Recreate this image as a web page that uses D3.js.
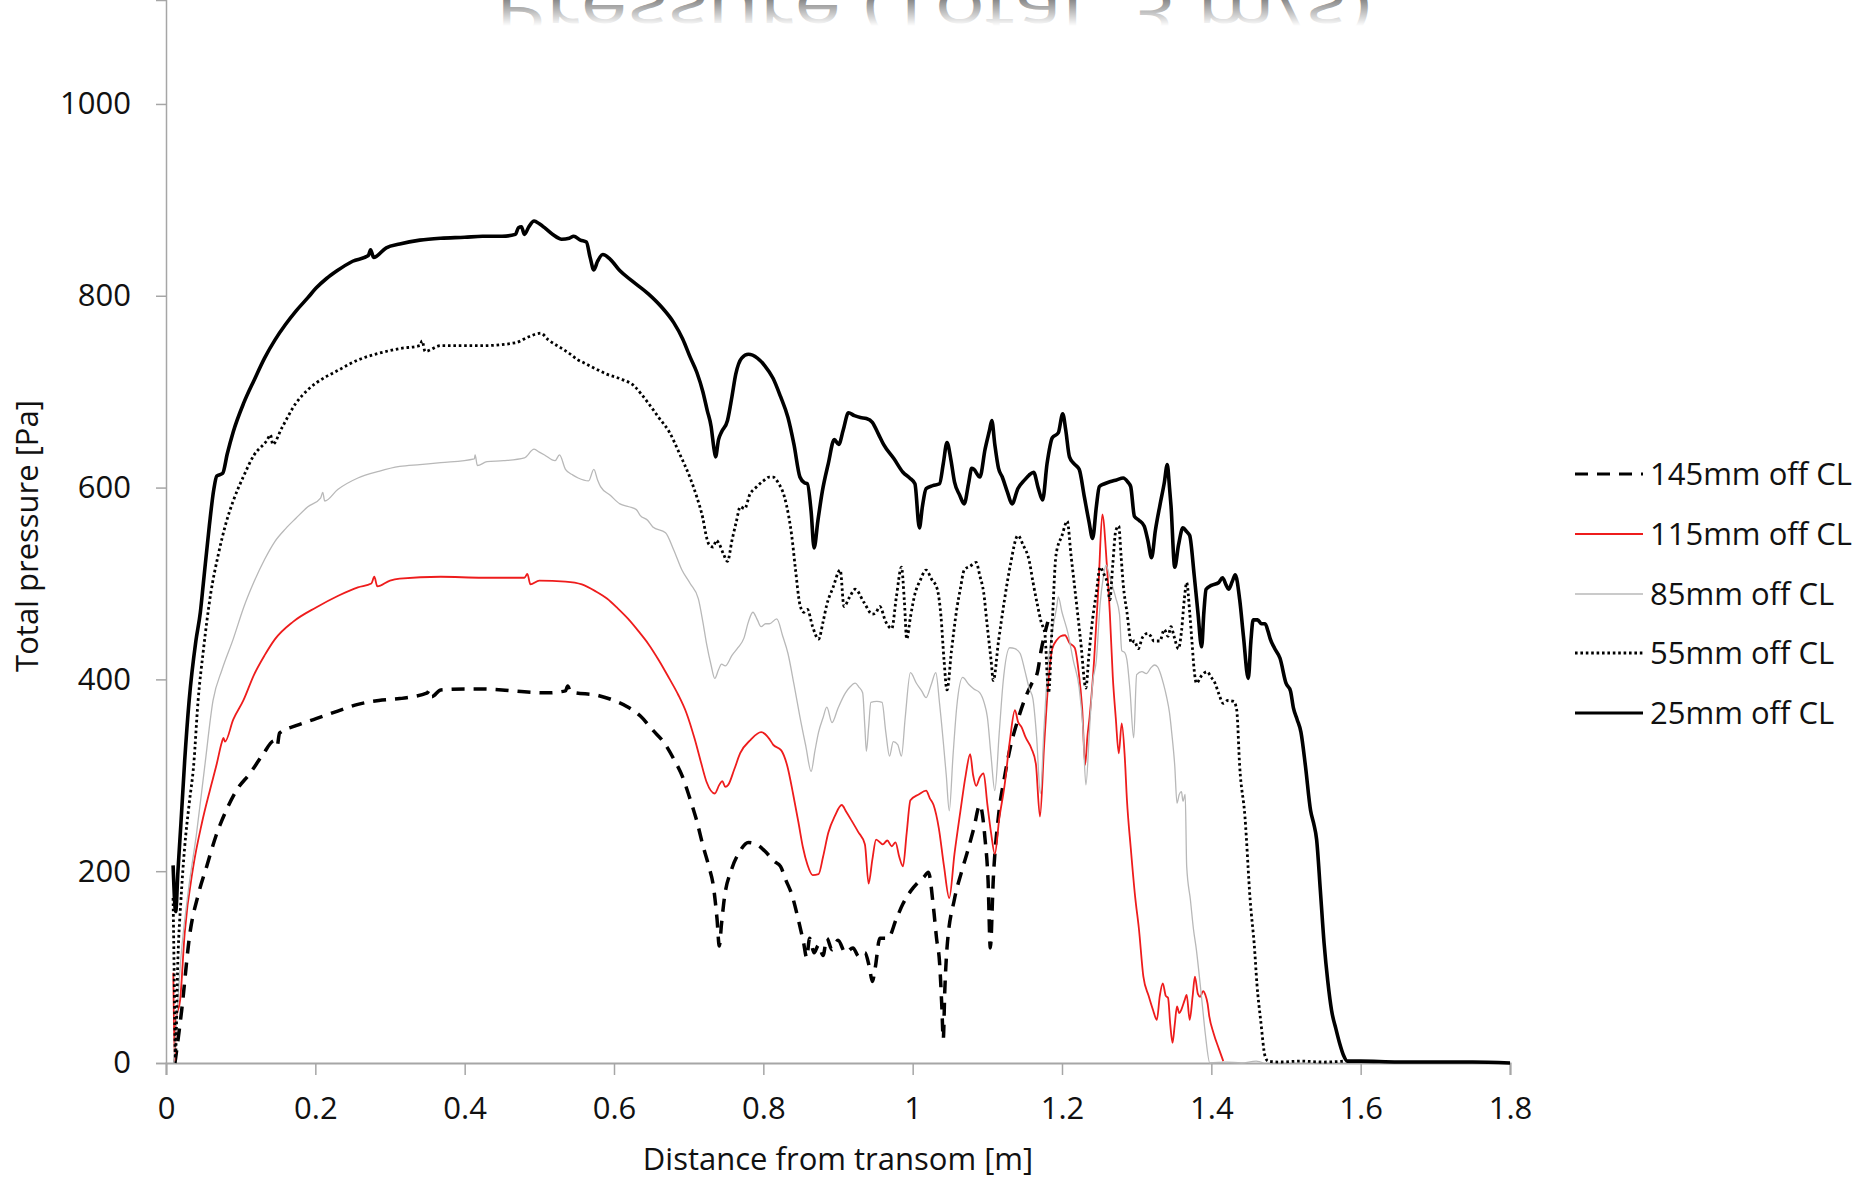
<!DOCTYPE html>
<html>
<head>
<meta charset="utf-8">
<script src="https://cdn.jsdelivr.net/npm/d3@7"></script>
<style>
  body { margin: 0; background: #fff; }
  svg { display: block; font-family: "Open Sans", sans-serif; }
</style>
</head>
<body>
<svg id="chart" width="1869" height="1181"></svg>
<script>
// series data: [distance m, pressure Pa]
var s145 = [[0.012,0],[0.021,55],[0.032,135],[0.043,175],[0.0545,205],[0.067,237],[0.081,264],[0.095,285],[0.1125,302],[0.13,322],[0.145,336],[0.149,331],[0.152,344],[0.175,352],[0.201,359],[0.23,367],[0.257,374],[0.285,378],[0.313,380],[0.35,386],[0.353,389],[0.356,382],[0.368,389],[0.4,390],[0.424,390],[0.45,389],[0.48,387],[0.51,386],[0.535,388],[0.538,393],[0.542,387],[0.58,383],[0.6,378],[0.619,371],[0.635,362],[0.652,347],[0.668,333],[0.68,317],[0.692,298],[0.702,275],[0.711,252],[0.719,227],[0.727,205],[0.733,185],[0.738,150],[0.741,122],[0.744,145],[0.747,167],[0.758,203],[0.768,220],[0.78,230],[0.791,228],[0.802,221],[0.815,210],[0.823,205],[0.83,191],[0.838,176],[0.847,149],[0.854,125],[0.858,110],[0.862,130],[0.868,115],[0.874,123],[0.88,112],[0.885,130],[0.892,118],[0.9,128],[0.91,115],[0.92,120],[0.928,111],[0.936,115],[0.942,100],[0.946,85],[0.95,100],[0.956,130],[0.967,130],[0.978,150],[0.987,166],[0.998,180],[1.008,189],[1.015,194],[1.021,199],[1.028,161],[1.032,130],[1.036,105],[1.039,60],[1.041,25],[1.043,75],[1.046,120],[1.056,171],[1.065,198],[1.074,222],[1.082,245],[1.09,269],[1.097,233],[1.101,190],[1.104,120],[1.108,192],[1.115,258],[1.123,298],[1.131,330],[1.141,358],[1.151,381],[1.159,395],[1.167,407],[1.172,430],[1.177,448],[1.181,460]];

var s115 = [[0.0098,94],[0.0116,2],[0.0134,45],[0.019,66],[0.025,135],[0.0366,205],[0.048,250],[0.059,285],[0.068,312],[0.075,335],[0.077,339],[0.079,335],[0.09,358],[0.1036,378],[0.118,405],[0.132,425],[0.146,442],[0.17,460],[0.201,475],[0.23,487],[0.257,496],[0.275,500],[0.279,507],[0.283,497],[0.3,503],[0.313,505],[0.368,507],[0.424,506],[0.48,506],[0.484,510],[0.488,499],[0.5,503],[0.535,502],[0.557,499],[0.575,492],[0.591,484],[0.605,474],[0.619,463],[0.633,450],[0.646,437],[0.66,420],[0.674,401],[0.686,384],[0.697,365],[0.708,338],[0.716,315],[0.724,293],[0.735,281],[0.741,290],[0.745,294],[0.749,288],[0.753,290],[0.761,306],[0.769,323],[0.783,337],[0.797,345],[0.808,338],[0.813,332],[0.824,326],[0.832,310],[0.84,280],[0.847,251],[0.853,225],[0.859,207],[0.866,196],[0.874,197],[0.88,215],[0.887,240],[0.896,258],[0.905,269],[0.911,262],[0.918,253],[0.927,241],[0.936,228],[0.941,187],[0.946,212],[0.951,233],[0.96,228],[0.966,232],[0.972,226],[0.977,230],[0.982,215],[0.987,205],[0.992,240],[0.997,274],[1.008,280],[1.018,284],[1.023,276],[1.028,269],[1.035,245],[1.042,205],[1.049,172],[1.056,218],[1.064,263],[1.071,300],[1.077,322],[1.081,300],[1.085,289],[1.09,298],[1.095,302],[1.1,270],[1.105,240],[1.11,218],[1.116,255],[1.123,289],[1.13,335],[1.137,368],[1.141,356],[1.146,350],[1.151,340],[1.159,328],[1.165,312],[1.1705,257],[1.176,330],[1.182,400],[1.187,432],[1.193,441],[1.198,445],[1.204,446],[1.21,438],[1.217,433],[1.222,410],[1.227,370],[1.231,311],[1.234,340],[1.237,361],[1.243,420],[1.249,500],[1.254,572],[1.26,520],[1.264,470],[1.268,403],[1.272,360],[1.276,323],[1.28,354],[1.284,320],[1.287,274],[1.292,225],[1.298,173],[1.303,140],[1.309,90],[1.316,70],[1.322,55],[1.327,45],[1.331,70],[1.335,83],[1.339,70],[1.342,68],[1.345,40],[1.348,21],[1.351,40],[1.354,59],[1.357,52],[1.36,56],[1.364,65],[1.367,71],[1.371,45],[1.375,70],[1.378,90],[1.382,72],[1.385,69],[1.389,75],[1.392,71],[1.395,62],[1.397,50],[1.403,31],[1.41,15],[1.416,2]];

var s85 = [[0.0105,0],[0.013,30],[0.02,110],[0.03,180],[0.041,240],[0.052,310],[0.063,378],[0.075,410],[0.09,442],[0.104,475],[0.118,502],[0.132,525],[0.146,544],[0.16,557],[0.174,568],[0.19,580],[0.207,589],[0.21,595],[0.2125,586],[0.23,598],[0.257,610],[0.285,617],[0.313,622],[0.34,624],[0.368,626],[0.413,630],[0.414,634],[0.417,623],[0.43,627],[0.452,628],[0.48,631],[0.493,640],[0.5,637],[0.507,634],[0.521,628],[0.527,634],[0.535,619],[0.545,613],[0.552,610],[0.566,607],[0.573,619],[0.578,608],[0.582,601],[0.595,592],[0.608,583],[0.62,580],[0.63,577],[0.635,571],[0.645,566],[0.652,559],[0.669,553],[0.68,535],[0.691,514],[0.702,500],[0.713,484],[0.719,460],[0.724,437],[0.73,415],[0.735,401],[0.74,410],[0.744,416],[0.749,414],[0.758,425],[0.766,433],[0.774,443],[0.78,460],[0.786,470],[0.792,462],[0.797,455],[0.803,458],[0.808,458],[0.818,463],[0.826,445],[0.833,427],[0.841,395],[0.849,361],[0.857,330],[0.864,304],[0.869,325],[0.874,345],[0.88,360],[0.885,371],[0.892,355],[0.9,370],[0.91,386],[0.916,392],[0.923,396],[0.928,392],[0.933,386],[0.936,350],[0.938,325],[0.941,350],[0.944,376],[0.952,377],[0.959,376],[0.964,345],[0.969,320],[0.974,335],[0.98,332],[0.985,320],[0.99,360],[0.997,407],[1.005,396],[1.012,388],[1.018,381],[1.025,395],[1.031,407],[1.036,375],[1.041,335],[1.045,300],[1.049,263],[1.054,320],[1.059,371],[1.067,402],[1.075,395],[1.082,390],[1.09,386],[1.096,375],[1.1,361],[1.105,320],[1.11,284],[1.116,345],[1.121,396],[1.13,433],[1.137,432],[1.144,427],[1.15,410],[1.156,391],[1.161,380],[1.166,340],[1.171,281],[1.176,350],[1.181,413],[1.187,450],[1.193,476],[1.195,486],[1.2,470],[1.208,448],[1.215,420],[1.223,391],[1.228,350],[1.232,290],[1.237,350],[1.241,396],[1.246,420],[1.251,478],[1.255,505],[1.259,519],[1.263,510],[1.267,499],[1.272,485],[1.277,468],[1.28,430],[1.284,428],[1.287,420],[1.291,389],[1.296,339],[1.3,405],[1.307,408],[1.313,406],[1.319,412],[1.324,415],[1.328,413],[1.331,408],[1.336,395],[1.34,382],[1.344,365],[1.347,344],[1.351,310],[1.354,271],[1.357,280],[1.36,283],[1.362,273],[1.365,280],[1.367,205],[1.372,170],[1.376,140],[1.38,118],[1.384,90],[1.388,60],[1.392,30],[1.398,0],[1.42,1],[1.44,0],[1.46,2],[1.47,0]];

var s55 = [[0.0095,172],[0.011,90],[0.0125,5],[0.016,110],[0.02,170],[0.025,225],[0.031,270],[0.037,310],[0.043,378],[0.05,430],[0.06,490],[0.07,530],[0.08,562],[0.09,586],[0.104,612],[0.118,634],[0.135,649],[0.14,655],[0.143,645],[0.155,662],[0.174,688],[0.19,702],[0.201,709],[0.23,722],[0.257,733],[0.285,740],[0.313,745],[0.34,748],[0.343,753],[0.347,742],[0.368,748],[0.424,748],[0.468,751],[0.485,757],[0.502,761],[0.512,754],[0.524,748],[0.54,740],[0.552,733],[0.56,730],[0.575,724],[0.591,718],[0.61,713],[0.627,706],[0.636,698],[0.646,688],[0.66,673],[0.674,658],[0.688,635],[0.702,610],[0.711,590],[0.719,568],[0.724,548],[0.727,541],[0.733,538],[0.737,545],[0.741,541],[0.747,530],[0.752,523],[0.758,545],[0.764,565],[0.769,580],[0.775,578],[0.782,593],[0.79,600],[0.8,607],[0.808,611],[0.813,611],[0.82,605],[0.828,591],[0.834,570],[0.838,550],[0.843,515],[0.849,478],[0.854,470],[0.859,473],[0.866,455],[0.874,442],[0.88,460],[0.885,478],[0.893,495],[0.903,514],[0.908,476],[0.915,485],[0.923,494],[0.935,480],[0.946,468],[0.951,470],[0.956,476],[0.964,460],[0.972,453],[0.978,485],[0.985,517],[0.989,480],[0.992,442],[0.997,465],[1.003,489],[1.01,503],[1.018,514],[1.025,505],[1.033,494],[1.038,465],[1.042,420],[1.046,389],[1.052,430],[1.059,473],[1.064,495],[1.069,514],[1.077,518],[1.085,522],[1.09,508],[1.095,491],[1.1,455],[1.105,420],[1.108,399],[1.115,440],[1.123,483],[1.131,520],[1.141,550],[1.148,540],[1.156,524],[1.161,502],[1.167,478],[1.172,460],[1.177,448],[1.182,386],[1.187,460],[1.192,530],[1.2,550],[1.207,565],[1.212,530],[1.218,489],[1.225,440],[1.232,391],[1.236,425],[1.241,463],[1.246,490],[1.251,517],[1.256,510],[1.261,499],[1.264,483],[1.268,520],[1.272,555],[1.276,560],[1.279,530],[1.282,499],[1.287,470],[1.293,438],[1.297,440],[1.302,432],[1.308,444],[1.315,448],[1.319,445],[1.323,440],[1.331,440],[1.337,452],[1.342,445],[1.346,455],[1.35,445],[1.356,432],[1.36,450],[1.364,485],[1.367,501],[1.371,470],[1.374,440],[1.377,410],[1.38,396],[1.387,404],[1.394,408],[1.4,402],[1.405,396],[1.41,385],[1.416,375],[1.422,378],[1.43,377],[1.434,368],[1.438,309],[1.445,257],[1.452,170],[1.458,118],[1.461,83],[1.466,45],[1.472,7],[1.476,2],[1.49,1],[1.52,2],[1.55,1],[1.58,2]];

var s25 = [[0.0095,206],[0.013,158],[0.016,200],[0.02,250],[0.025,315],[0.031,378],[0.04,440],[0.046,470],[0.05,500],[0.058,560],[0.064,598],[0.068,612],[0.076,615],[0.082,635],[0.09,658],[0.104,688],[0.118,712],[0.132,735],[0.146,754],[0.16,770],[0.174,784],[0.19,798],[0.201,808],[0.215,818],[0.229,826],[0.25,836],[0.271,842],[0.274,848],[0.278,840],[0.295,850],[0.313,854],[0.34,858],[0.368,860],[0.4,861],[0.424,862],[0.45,862],[0.468,864],[0.472,871],[0.476,872],[0.48,864],[0.486,872],[0.493,878],[0.5,875],[0.507,871],[0.518,864],[0.53,859],[0.54,860],[0.546,862],[0.555,858],[0.563,856],[0.568,840],[0.573,827],[0.578,836],[0.585,843],[0.595,838],[0.608,826],[0.625,815],[0.646,802],[0.664,788],[0.68,772],[0.692,755],[0.702,736],[0.711,720],[0.719,700],[0.725,680],[0.73,664],[0.734,640],[0.736,632],[0.74,650],[0.744,658],[0.752,670],[0.758,695],[0.763,718],[0.771,735],[0.78,739],[0.792,735],[0.802,727],[0.813,714],[0.823,695],[0.833,673],[0.841,645],[0.849,611],[0.855,605],[0.859,604],[0.864,575],[0.868,537],[0.873,565],[0.879,596],[0.887,625],[0.895,650],[0.901,645],[0.907,660],[0.914,678],[0.922,675],[0.93,673],[0.938,672],[0.946,668],[0.954,656],[0.961,645],[0.975,630],[0.987,616],[0.996,610],[1.003,604],[1.009,558],[1.013,580],[1.018,599],[1.027,602],[1.036,604],[1.041,625],[1.046,647],[1.051,630],[1.056,606],[1.063,592],[1.069,583],[1.075,605],[1.079,620],[1.082,619],[1.09,611],[1.097,640],[1.103,660],[1.106,670],[1.11,645],[1.115,620],[1.12,611],[1.127,595],[1.133,583],[1.141,599],[1.15,608],[1.156,613],[1.162,616],[1.168,600],[1.174,587],[1.18,625],[1.187,652],[1.195,657],[1.201,677],[1.205,660],[1.21,632],[1.216,625],[1.223,619],[1.23,590],[1.236,565],[1.241,547],[1.246,580],[1.25,601],[1.257,604],[1.264,606],[1.273,608],[1.282,610],[1.288,606],[1.292,601],[1.297,570],[1.303,566],[1.31,560],[1.315,545],[1.32,527],[1.325,555],[1.331,581],[1.337,605],[1.341,624],[1.344,600],[1.346,581],[1.351,517],[1.356,540],[1.362,558],[1.367,554],[1.371,550],[1.377,509],[1.382,470],[1.387,434],[1.39,470],[1.393,494],[1.4,498],[1.41,501],[1.415,506],[1.42,498],[1.423,494],[1.428,502],[1.432,509],[1.438,483],[1.443,445],[1.4495,401],[1.453,440],[1.456,462],[1.462,462],[1.467,458],[1.472,458],[1.476,450],[1.479,442],[1.485,432],[1.492,422],[1.5,396],[1.506,388],[1.51,370],[1.515,358],[1.52,345],[1.526,310],[1.533,263],[1.537,250],[1.541,233],[1.546,180],[1.551,125],[1.556,85],[1.561,55],[1.567,35],[1.572,20],[1.577,8],[1.582,2],[1.6,2],[1.65,1],[1.7,1],[1.75,1],[1.8,0]];

var seriesNames = ["145mm off CL", "115mm off CL", "85mm off CL", "55mm off CL", "25mm off CL"];
var xTicks = [0, 0.2, 0.4, 0.6, 0.8, 1, 1.2, 1.4, 1.6, 1.8];
var yTicks = [0, 200, 400, 600, 800, 1000];

var styles = [
  { color: "#000", width: 3.5, dash: "13,9" },
  { color: "#ee1c1c", width: 1.8, dash: null },
  { color: "#b8b8b8", width: 1.3, dash: null },
  { color: "#000", width: 2.8, dash: "2.6,2.8" },
  { color: "#000", width: 3.6, dash: null }
];
var allSeries = [s145, s115, s85, s55, s25];

var svg = d3.select("#chart");

var x = d3.scaleLinear().domain([0, 1.8]).range([166, 1510]);
var y = d3.scaleLinear().domain([0, 1108.4]).range([1063, 0]);

// faded reflection of the cut-off title at the very top
svg.append("text")
  .attr("transform", "translate(933,-11) scale(1,-1)")
  .attr("text-anchor", "middle")
  .attr("font-size", 64)
  .attr("textLength", 876)
  .attr("lengthAdjust", "spacingAndGlyphs")
  .attr("fill", "#8a8a8a")
  .text("Pressure (Total, 3 m/s)");

var defs = svg.append("defs");
var fade = defs.append("linearGradient").attr("id", "fade")
  .attr("x1", 0).attr("y1", 0).attr("x2", 0).attr("y2", 1);
fade.append("stop").attr("offset", "0%").attr("stop-color", "#fff").attr("stop-opacity", 0);
fade.append("stop").attr("offset", "100%").attr("stop-color", "#fff").attr("stop-opacity", 1);
svg.append("rect").attr("x", 470).attr("y", 0).attr("width", 930).attr("height", 26).attr("fill", "url(#fade)");
svg.append("rect").attr("x", 470).attr("y", 26).attr("width", 930).attr("height", 40).attr("fill", "#fff");

// axes
var xAxis = d3.axisBottom(x).tickValues(xTicks).tickSize(12).tickPadding(22)
  .tickFormat(function(d) { return String(+d.toFixed(1)); });
var gx = svg.append("g").attr("transform", "translate(0," + y(0) + ")").call(xAxis);
gx.select(".domain").attr("stroke", "#a6a6a6").attr("stroke-width", 2);
gx.selectAll(".tick line").attr("stroke", "#a6a6a6").attr("stroke-width", 1.5);
gx.selectAll(".tick text").attr("font-size", 31).attr("fill", "#111").attr("font-family", "Open Sans");

var yAxis = d3.axisLeft(y).tickValues(yTicks).tickSize(10).tickPadding(25)
  .tickFormat(function(d) { return String(d); });
var gy = svg.append("g").attr("transform", "translate(" + x(0) + ",0)").call(yAxis);
gy.select(".domain").attr("stroke", "#a6a6a6").attr("stroke-width", 1.5);
gy.selectAll(".tick line").attr("stroke", "#a6a6a6").attr("stroke-width", 1.5);
gy.selectAll(".tick text").attr("font-size", 31).attr("fill", "#111").attr("font-family", "Open Sans");

svg.append("text")
  .attr("x", (x(0) + x(1.8)) / 2).attr("y", 1170)
  .attr("text-anchor", "middle").attr("font-size", 31).attr("fill", "#111")
  .text("Distance from transom [m]");

svg.append("text")
  .attr("transform", "translate(38,536) rotate(-90)")
  .attr("text-anchor", "middle").attr("font-size", 31).attr("fill", "#111")
  .text("Total pressure [Pa]");

// lines
var line = d3.line()
  .x(function(d) { return x(d[0]); })
  .y(function(d) { return y(d[1]); })
  .curve(d3.curveMonotoneX);

allSeries.forEach(function(data, i) {
  var st = styles[i];
  svg.append("path")
    .datum(data)
    .attr("d", line)
    .attr("fill", "none")
    .attr("stroke", st.color)
    .attr("stroke-width", st.width)
    .attr("stroke-linejoin", "round")
    .attr("stroke-dasharray", st.dash);
});

// legend
var legendY = [474, 534, 594, 653, 713];
var lg = svg.append("g");
seriesNames.forEach(function(name, i) {
  var st = styles[i];
  lg.append("line")
    .attr("x1", 1575).attr("x2", 1643)
    .attr("y1", legendY[i]).attr("y2", legendY[i])
    .attr("stroke", st.color)
    .attr("stroke-width", i == 4 ? 3 : (i == 0 ? 3 : st.width))
    .attr("stroke-dasharray", st.dash);
  lg.append("text")
    .attr("x", 1650).attr("y", legendY[i])
    .attr("dy", "0.35em")
    .attr("font-size", 31).attr("fill", "#111")
    .text(name);
});
</script>
</body>
</html>
